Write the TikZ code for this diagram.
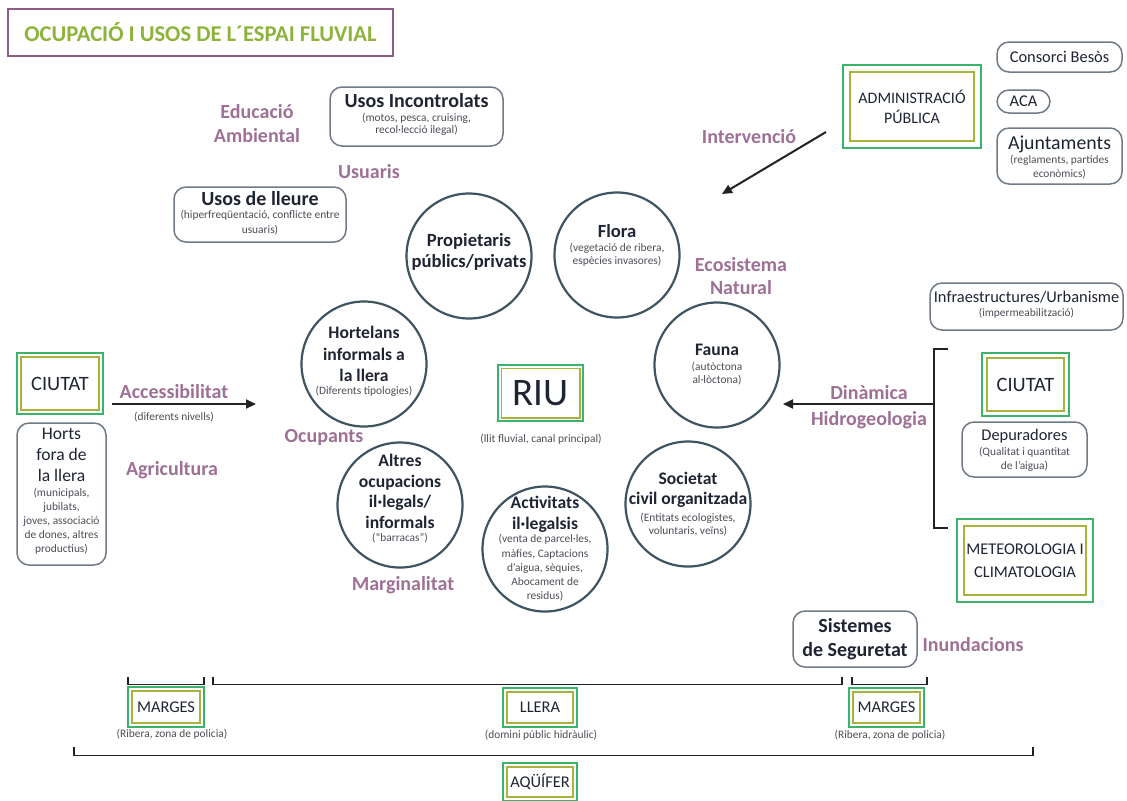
\documentclass[tikz,border=0pt]{standalone}
\usepackage{fontspec}
\setmainfont{Carlito}
\usetikzlibrary{arrows.meta}
\definecolor{purp}{RGB}{158,112,150}
\definecolor{titlegreen}{RGB}{141,179,58}
\definecolor{titleframe}{RGB}{142,92,133}
\definecolor{boxgreen}{RGB}{59,179,106}
\definecolor{boxolive}{RGB}{169,178,60}
\definecolor{circc}{RGB}{62,85,97}
\definecolor{rbc}{RGB}{112,122,134}
\definecolor{ink}{RGB}{31,36,51}
\definecolor{subc}{RGB}{75,77,85}
\definecolor{arrc}{RGB}{34,34,34}
\begin{document}
\begin{tikzpicture}[x=0.5pt,y=-0.5pt,
  lab/.style={text=purp,font=\bfseries\fontsize{10}{12}\selectfont,align=center,inner sep=0},
  ctit/.style={text=ink,font=\bfseries\fontsize{8.8}{10.5}\selectfont,align=center,inner sep=0},
  btit/.style={text=ink,font=\bfseries\fontsize{10}{12}\selectfont,align=center,inner sep=0},
  mtit/.style={text=ink,font=\fontsize{8.2}{10}\selectfont,align=center,inner sep=0},
  stxt/.style={text=subc,font=\fontsize{5.7}{6.8}\selectfont,align=center,inner sep=0},
  circ/.style={circle,draw=circc,line width=1.1pt,minimum size=62.5pt,inner sep=0},
  rb/.style={draw=rbc,line width=0.75pt,rounded corners=6pt,inner sep=0},
  db/.style={draw=boxgreen,line width=0.9pt,inner sep=0,align=center,text=ink,
     path picture={\draw[boxolive,line width=0.7pt]([shift={(#1,#1)}]path picture bounding box.south west) rectangle ([shift={(-#1,-#1)}]path picture bounding box.north east);}},
  db/.default=2.5pt,
  arr/.style={draw=arrc,line width=1pt,-{Triangle[length=5pt,width=4.5pt]}},
  brk/.style={draw=arrc,line width=0.9pt}
]
\useasboundingbox (0,0) rectangle (1127,800);

% title
\node[draw=titleframe,line width=1pt,minimum width=192.5pt,minimum height=23.5pt,inner sep=0,
      text=titlegreen,font=\bfseries\fontsize{11.3}{13}\selectfont] (title) at (200.5,32.5) {OCUPACIÓ I USOS DE L´ESPAI FLUVIAL};

% purple labels
\node[lab] (edu) at (257,124) {Educació\\Ambiental};
\node[lab] (usuaris) at (369,172) {Usuaris};
\node[lab] (interv) at (749,137) {Intervenció};
\node[lab,font=\bfseries\fontsize{10}{11.7}\selectfont] (eco) at (741,276) {Ecosistema\\Natural};
\node[lab] (acc) at (174,392) {Accessibilitat};
\node[lab] (agri) at (172,470) {Agricultura};
\node[lab] (ocup) at (324,437) {Ocupants};
\node[lab] (marg) at (403,585) {Marginalitat};
\node[lab,font=\bfseries\fontsize{10}{13}\selectfont] (din) at (869,407) {Dinàmica\\Hidrogeologia};
\node[lab] (inund) at (973,645) {Inundacions};

% rounded boxes
\node[rb,minimum width=86.5pt,minimum height=29.5pt] (usosinc) at (416.5,116.5) {};
\node[btit] (usosincT) at (416.5,100.5) {Usos Incontrolats};
\node[stxt,font=\fontsize{5.7}{6}\selectfont] (usosincS) at (416.5,124.5) {(motos, pesca, cruising,\\recol·lecció ilegal)};

\node[rb,minimum width=86pt,minimum height=27.5pt] (lleure) at (260,214.5) {};
\node[btit] (lleureT) at (260,198.5) {Usos de lleure};
\node[stxt,font=\fontsize{5.7}{7.5}\selectfont] (lleureS) at (260,222.5) {(hiperfreqüentació, conflicte entre\\usuaris)};

\node[rb,mtit,minimum width=62.5pt,minimum height=15pt] (consorci) at (1059.5,57) {Consorci Besòs};
\node[rb,mtit,minimum width=26.5pt,minimum height=11.5pt] (aca) at (1023.5,101.5) {ACA};
\node[rb,minimum width=62.5pt,minimum height=28pt] (ajunt) at (1059.5,156) {};
\node[mtit,font=\fontsize{9.9}{11}\selectfont] (ajuntT) at (1059.5,144.5) {Ajuntaments};
\node[stxt,font=\fontsize{5.7}{7}\selectfont] (ajuntS) at (1059.5,167.5) {(reglaments, partides\\econòmics)};

\node[rb,minimum width=96.5pt,minimum height=23.5pt] (infra) at (1026.5,306.5) {};
\node[mtit] (infraT) at (1026.5,297.5) {Infraestructures/Urbanisme};
\node[stxt] (infraS) at (1026.5,313.5) {(impermeabilització)};

\node[rb,minimum width=62.5pt,minimum height=27.5pt] (depur) at (1024.5,449.5) {};
\node[mtit] (depurT) at (1024.5,436.5) {Depuradores};
\node[stxt,font=\fontsize{5.7}{7}\selectfont] (depurS) at (1024.5,459.5) {(Qualitat i quantitat\\de l'aigua)};

\node[rb,minimum width=44.5pt,minimum height=71pt] (horts) at (61.5,494) {};
\node[mtit,font=\fontsize{8.8}{10.3}\selectfont] (hortsT) at (61.5,455) {Horts\\fora de\\la llera};
\node[stxt,font=\fontsize{5.7}{7}\selectfont] (hortsS) at (61.5,521.5) {(municipals,\\jubilats,\\joves, associació\\de dones, altres\\productius)};

\node[rb,minimum width=62pt,minimum height=28pt] (sist) at (855,639) {};
\node[btit] (sistT) at (855,639) {Sistemes\\de Seguretat};

% double boxes
\node[db=3.5pt,minimum width=69pt,minimum height=41.5pt,font=\fontsize{8}{10}\selectfont] (admin) at (912,106.5) {ADMINISTRACIÓ\\PÚBLICA};
\node[db=2pt,minimum width=43pt,minimum height=30.5pt,font=\fontsize{10.2}{12}\selectfont] (ciutatL) at (60,383.5) {CIUTAT};
\node[db=2.5pt,minimum width=43.5pt,minimum height=31.5pt,font=\fontsize{10.2}{12}\selectfont] (ciutatR) at (1025.5,384.5) {CIUTAT};
\node[db=3.5pt,minimum width=68pt,minimum height=41.5pt,font=\fontsize{8.2}{11.5}\selectfont] (meteo) at (1025,560.5) {METEOROLOGIA I\\CLIMATOLOGIA};
\node[db=1.6pt,minimum width=42.5pt,minimum height=28pt,font=\fontsize{19.5}{20}\selectfont] (riu) at (540.5,393) {RIU};
\node[db=2pt,minimum width=38pt,minimum height=20pt,font=\fontsize{8.2}{10}\selectfont] (margesL) at (166,707) {MARGES};
\node[db=2pt,minimum width=37pt,minimum height=19.5pt,font=\fontsize{8.2}{10}\selectfont] (llera) at (540,707.5) {LLERA};
\node[db=2pt,minimum width=37.5pt,minimum height=19.5pt,font=\fontsize{8.2}{10}\selectfont] (margesR) at (886.5,707.5) {MARGES};
\node[db=2pt,minimum width=37pt,minimum height=19pt,font=\fontsize{8.2}{10}\selectfont] (aquifer) at (540,782) {AQÜÍFER};

\node[stxt] (riuS) at (541,439) {(llit fluvial, canal principal)};
\node[stxt] (margesLS) at (172,734) {(Ribera, zona de policia)};
\node[stxt] (lleraS) at (541,735) {(domini públic hidràulic)};
\node[stxt] (margesRS) at (890,735) {(Ribera, zona de policia)};
\node[stxt] (accS) at (174,417) {(diferents nivells)};

% circles
\node[circ] (prop) at (469,256) {};
\node[circ] (flora) at (617,255) {};
\node[circ] (fauna) at (717,365) {};
\node[circ] (hort) at (364,364) {};
\node[circ] (altres) at (400,505) {};
\node[circ] (activ) at (545,549) {};
\node[circ] (soc) at (688,504) {};

\node[ctit,font=\bfseries\fontsize{9.3}{10.5}\selectfont] (propT) at (469,251.5) {Propietaris\\públics/privats};
\node[ctit,font=\bfseries\fontsize{9.3}{10.5}\selectfont] (floraT) at (617,231.5) {Flora};
\node[stxt,font=\fontsize{5.7}{6.5}\selectfont] (floraS) at (617,255) {(vegetació de ribera,\\espècies invasores)};
\node[ctit] (faunaT) at (717,349.5) {Fauna};
\node[stxt] (faunaS) at (717,373.5) {(autòctona\\al·lòctona)};
\node[ctit,font=\bfseries\fontsize{8.8}{10.75}\selectfont] (hortT) at (364,354) {Hortelans\\informals a\\la llera};
\node[stxt] (hortS) at (364,391.5) {(Diferents tipologies)};
\node[ctit,font=\bfseries\fontsize{8.8}{10.3}\selectfont] (altresT) at (400,491.5) {Altres\\ocupacions\\il·legals/\\informals};
\node[stxt] (altresS) at (400,538.5) {(“barracas”)};
\node[ctit] (activT) at (545,514) {Activitats\\il·legalsis};
\node[stxt,font=\fontsize{5.7}{7.1}\selectfont] (activS) at (545,568) {(venta de parcel·les,\\màfies, Captacions\\d'aigua, sèquies,\\Abocament de\\residus)};
\node[ctit,font=\bfseries\fontsize{8.8}{10}\selectfont] (socT) at (688,489.5) {Societat\\civil organitzada};
\node[stxt,font=\fontsize{5.7}{6.5}\selectfont] (socS) at (688,525) {(Entitats ecologistes,\\voluntaris, veïns)};

% arrows
\coordinate (intA) at (826,132);
\coordinate (intB) at (722,194);
\draw[arr] (intA) -- (intB);
\coordinate (accA) at (112,404);
\coordinate (accB) at (256,404);
\draw[arr] (accA) -- (accB);
\coordinate (dinA) at (934,404);
\coordinate (dinB) at (783,404);
\draw[arr] (dinA) -- (dinB);

% brackets
\draw[brk] (948,349) -- (934,349) -- (934,528) -- (948,528);
\draw[brk] (128,677) -- (128,684.5) -- (204,684.5) -- (204,677);
\draw[brk] (213,677) -- (213,684.5) -- (842,684.5) -- (842,677);
\draw[brk] (852,677) -- (852,684.5) -- (927,684.5) -- (927,677);
\draw[brk] (74,747) -- (74,755.5) -- (1033,755.5) -- (1033,747);
\end{tikzpicture}
\end{document}
